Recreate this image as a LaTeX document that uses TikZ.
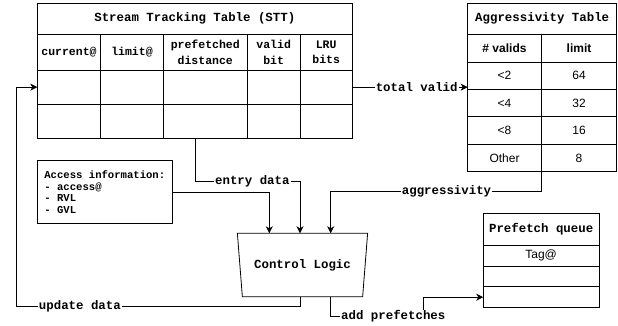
\documentclass[tikz,border=0pt]{standalone}
\usepackage{fontspec}
\setmainfont{Liberation Sans}
\setmonofont{Liberation Mono}
\usetikzlibrary{arrows.meta,shapes.geometric}
\newcommand{\mkcell}[7][]{\node[cell,minimum width=#5pt,minimum height=#6pt,#1] (#2) at (#3,#4) {#7};}
\tikzset{
  cell/.style={draw, line width=0.8pt, anchor=north west, inner sep=0pt, outer sep=0pt, align=center},
  monot/.style={font=\ttfamily\bfseries\fontsize{12.4}{14}\selectfont},
  monoh/.style={font=\ttfamily\bfseries\fontsize{11.5}{15.5}\selectfont},
  sans/.style={font=\fontsize{12}{14}\selectfont},
  sansb/.style={font=\bfseries\fontsize{12}{14}\selectfont},
  conn/.style={draw, line width=0.8pt, -{Stealth[length=7pt,width=7pt,inset=2pt]}},
  lbl/.style={fill=white, inner sep=1pt, font=\ttfamily\bfseries\fontsize{12.4}{14}\selectfont},
}
\begin{document}
\begin{tikzpicture}[x=1pt,y=-1pt]
\useasboundingbox (0,0) rectangle (618,326);
% Stream Tracking Table
\mkcell[monot]{stt}{37.3}{3.3}{315}{31}{Stream Tracking Table (STT)}
\mkcell[monoh]{h1}{37.3}{34.3}{63.4}{35.7}{current@}
\mkcell[monoh]{h2}{100.7}{34.3}{62.6}{35.7}{limit@}
\mkcell[monoh]{h3}{163.3}{34.3}{84}{35.7}{prefetched\\distance}
\mkcell[monoh]{h4}{247.3}{34.3}{52.7}{35.7}{valid\\bit}
\mkcell[monoh]{h5}{300}{34.3}{52.3}{35.7}{LRU\\bits}
\mkcell{r11}{37.3}{70}{63.4}{34.3}{}
\mkcell{r12}{100.7}{70}{62.6}{34.3}{}
\mkcell{r13}{163.3}{70}{84}{34.3}{}
\mkcell{r14}{247.3}{70}{52.7}{34.3}{}
\mkcell{r15}{300}{70}{52.3}{34.3}{}
\mkcell{r21}{37.3}{104.3}{63.4}{34.4}{}
\mkcell{r22}{100.7}{104.3}{62.6}{34.4}{}
\mkcell{r23}{163.3}{104.3}{84}{34.4}{}
\mkcell{r24}{247.3}{104.3}{52.7}{34.4}{}
\mkcell{r25}{300}{104.3}{52.3}{34.4}{}
% Aggressivity table
\mkcell[monot]{agg}{467.7}{3.3}{149}{31}{Aggressivity Table}
\mkcell[sansb]{a01}{467.7}{34.3}{73.6}{28}{\# valids}
\mkcell[sansb]{a02}{541.3}{34.3}{75.4}{28}{limit}
\mkcell[sans]{a11}{467.7}{62.3}{73.6}{27}{<2}
\mkcell[sans]{a12}{541.3}{62.3}{75.4}{27}{64}
\mkcell[sans]{a21}{467.7}{89.3}{73.6}{27.4}{<4}
\mkcell[sans]{a22}{541.3}{89.3}{75.4}{27.4}{32}
\mkcell[sans]{a31}{467.7}{116.7}{73.6}{27.6}{<8}
\mkcell[sans]{a32}{541.3}{116.7}{75.4}{27.6}{16}
\mkcell[sans]{a41}{467.7}{144.3}{73.6}{27.4}{Other}
\mkcell[sans]{a42}{541.3}{144.3}{75.4}{27.4}{8}
% Prefetch queue
\mkcell[monot]{pq}{483.3}{213.3}{115.7}{31.7}{Prefetch queue}
\mkcell[sans]{q1}{483.3}{245}{115.7}{21}{Tag@}
\mkcell{q2}{483.3}{266}{115.7}{20.7}{}
\mkcell{q3}{483.3}{286.7}{115.7}{21}{}
% Access information
\node[cell, minimum width=135pt, minimum height=62.6pt, align=left,
  font=\ttfamily\bfseries\fontsize{10.6}{11.7}\selectfont] (acc) at (37.3,160.7)
  {Access information:\\- access@\\- RVL\\- GVL};
% Control logic
\node[draw, line width=0.8pt, trapezium, shape border rotate=180, trapezium stretches=true,
  trapezium angle=71, minimum width=130.4pt, minimum height=63.4pt, inner sep=0pt, outer sep=0pt,
  font=\ttfamily\bfseries\fontsize{12.4}{14}\selectfont] (cl) at (302.5,265) {Control Logic};
\coordinate (in1) at (269.3,233.3);
\coordinate (in2) at (300,233.3);
\coordinate (in3) at (330.7,233.3);
\coordinate (out1) at (300,296.7);
\coordinate (out2) at (330.7,296.7);
\coordinate (edstart) at (195,138.7);
% connectors
\draw[conn] (r15.east) -- node[lbl, pos=0.558] {total valid} (r15.east -| a21.west);
\draw[conn] (a42.south west) -- (541.3,191.7) -| node[lbl, pos=0.225] {aggressivity} (in3);
\draw[conn] (edstart) |- node[lbl, pos=0.773] {entry data} (300,181.7) -- (in2);
\draw[conn] (acc.east) -| (in1);
\draw[conn] (out1) -- (300,306.7) -- node[lbl, pos=0.777] {update data} (16.7,306.7) |- (r11.west);
\draw[conn] (out2) |- (423.3,316.7) |- (q3.west);
\node[lbl] (lap) at (393.3,316.7) {add prefetches};
\end{tikzpicture}
\end{document}
